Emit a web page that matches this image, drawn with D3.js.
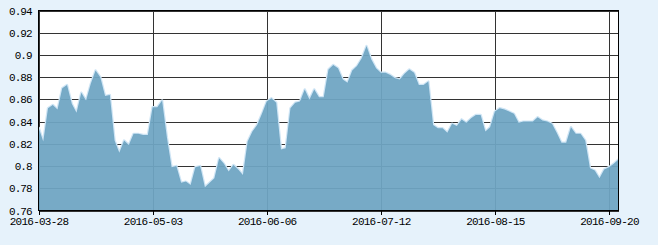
<!DOCTYPE html>
<html>
<head>
<meta charset="utf-8">
<script src="https://cdn.jsdelivr.net/npm/d3@7"></script>
<style>
  html, body { margin: 0; padding: 0; background: #e6f2fb; }
  svg { display: block; }
  text { font-family: "Liberation Mono", "DejaVu Sans Mono", monospace; font-size: 11px; fill: #000; }
</style>
</head>
<body>
<svg id="chart" width="658" height="245"></svg>
<script>
// ---- data ----
const values = [
  0.835, 0.822, 0.852, 0.855, 0.851, 0.870, 0.873, 0.856, 0.848, 0.866,
  0.859, 0.874, 0.886, 0.880, 0.863, 0.864, 0.823, 0.812, 0.823, 0.819,
  0.829, 0.829, 0.828, 0.828, 0.853, 0.853, 0.859, 0.826, 0.799, 0.800,
  0.785, 0.786, 0.783, 0.799, 0.800, 0.781, 0.785, 0.789, 0.807, 0.802,
  0.795, 0.801, 0.797, 0.792, 0.822, 0.831, 0.837, 0.847, 0.858, 0.861,
  0.857, 0.815, 0.816, 0.852, 0.857, 0.858, 0.869, 0.860, 0.869, 0.862,
  0.862, 0.887, 0.891, 0.888, 0.878, 0.875, 0.886, 0.890, 0.897, 0.908,
  0.896, 0.888, 0.884, 0.884, 0.882, 0.879, 0.878, 0.883, 0.887, 0.884,
  0.873, 0.873, 0.876, 0.837, 0.834, 0.834, 0.830, 0.838, 0.836, 0.842,
  0.839, 0.843, 0.846, 0.846, 0.831, 0.835, 0.849, 0.852, 0.851, 0.849,
  0.847, 0.839, 0.840, 0.840, 0.840, 0.844, 0.841, 0.840, 0.838, 0.830,
  0.821, 0.821, 0.835, 0.829, 0.829, 0.823, 0.798, 0.796, 0.789, 0.797,
  0.799, 0.802, 0.806
];
const xTickIndex = [0, 24, 48, 72, 96, 120];
const xTickLabels = ["2016-03-28", "2016-05-03", "2016-06-06", "2016-07-12", "2016-08-15", "2016-09-20"];
const yTicks = [0.76, 0.78, 0.80, 0.82, 0.84, 0.86, 0.88, 0.90, 0.92, 0.94];
const yTickLabels = ["0.76", "0.78", "0.8", "0.82", "0.84", "0.86", "0.88", "0.9", "0.92", "0.94"];

// ---- layout ----
const pLeft = 38.5, pRight = 618.5, pTop = 10.5, pBottom = 210.5;
const svg = d3.select("#chart");

const x = d3.scaleLinear().domain([0, values.length - 1]).range([pLeft, pRight]);
const y = d3.scaleLinear().domain([0.76, 0.94]).range([pBottom, pTop]);

// plot background
svg.append("rect")
  .attr("x", pLeft).attr("y", pTop)
  .attr("width", pRight - pLeft).attr("height", pBottom - pTop)
  .attr("fill", "#ffffff");

// grid lines
const grid = svg.append("g").attr("stroke", "#333").attr("stroke-width", 1).attr("shape-rendering", "crispEdges");
grid.selectAll("line.h").data(yTicks).enter().append("line")
  .attr("x1", pLeft).attr("x2", pRight)
  .attr("y1", d => Math.round(y(d)) + 0.5).attr("y2", d => Math.round(y(d)) + 0.5);
grid.selectAll("line.v").data(xTickIndex).enter().append("line")
  .attr("x1", d => Math.round(x(d)) + 0.5).attr("x2", d => Math.round(x(d)) + 0.5)
  .attr("y1", pTop).attr("y2", pBottom);

// area
const area = d3.area()
  .x((d, i) => x(i))
  .y0(y(0.76))
  .y1(d => y(d));
const line = d3.line()
  .x((d, i) => x(i))
  .y(d => y(d));

svg.append("path")
  .datum(values)
  .attr("d", line)
  .attr("fill", "none")
  .attr("stroke", "#cfe5f5")
  .attr("stroke-width", 2.4)
  .attr("stroke-linejoin", "round");

svg.append("path")
  .datum(values)
  .attr("d", area)
  .attr("fill", "rgb(111,165,194)")
  .attr("fill-opacity", 0.94);

// frame
svg.append("rect")
  .attr("x", pLeft).attr("y", pTop)
  .attr("width", pRight - pLeft).attr("height", pBottom - pTop)
  .attr("fill", "none").attr("stroke", "#000").attr("stroke-width", 1)
  .attr("shape-rendering", "crispEdges");

// y axis labels
const yAxis = d3.axisLeft(y)
  .tickValues(yTicks)
  .tickSize(0)
  .tickPadding(7)
  .tickFormat((d, i) => yTickLabels[i]);
const ya = svg.append("g").attr("transform", `translate(${pLeft},0)`).call(yAxis);
ya.select(".domain").remove();
ya.selectAll("text").style("letter-spacing", "-1px").style("font-family", "Liberation Mono, monospace").style("font-size", "11px");

// x axis
const xAxis = d3.axisBottom(x)
  .tickValues(xTickIndex)
  .tickSize(4)
  .tickPadding(3)
  .tickFormat((d, i) => xTickLabels[i]);
const xa = svg.append("g").attr("transform", `translate(0,${pBottom})`).call(xAxis);
xa.select(".domain").remove();
xa.selectAll(".tick line").attr("stroke", "#000").attr("shape-rendering", "crispEdges");
xa.selectAll("text").style("letter-spacing", "-0.75px").style("font-family", "Liberation Mono, monospace").style("font-size", "11px");
</script>
</body>
</html>
